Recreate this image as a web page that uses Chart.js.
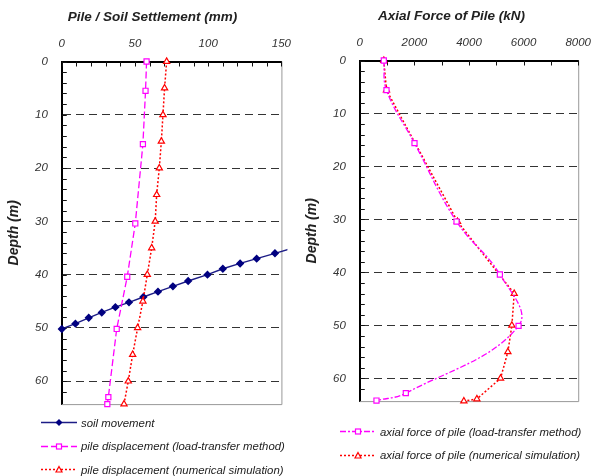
<!DOCTYPE html>
<html>
<head>
<meta charset="utf-8">
<script src="https://cdn.jsdelivr.net/npm/chart.js@4/dist/chart.umd.min.js"></script>
<style>
  html, body { margin: 0; padding: 0; background: #fff; overflow: hidden; }
  #wrap { position: relative; width: 591px; height: 476px; overflow: hidden; font-family: "Liberation Sans", Arial, sans-serif; }
  .box { position: absolute; }
  #leftBox { left: 0; top: 0; width: 303px; height: 425px; }
  #rightBox { left: 298px; top: -1px; width: 305px; height: 423px; }
  .legend { position: absolute; font-style: italic; font-size: 11.4px; color: #222; }
  .legend div { height: 23.5px; display: flex; align-items: center; white-space: nowrap; }
  .legend svg { margin-right: 4px; }
  #leftLegend { left: 41px; top: 411px; }
  #rightLegend { left: 340px; top: 420px; }
</style>
</head>
<body>
<div id="wrap">
  <div class="box" id="leftBox"><canvas id="settleChart"></canvas></div>
  <div class="box" id="rightBox"><canvas id="forceChart"></canvas></div>
  <div class="legend" id="leftLegend"></div>
  <div class="legend" id="rightLegend"></div>
</div>
<script>
// ---- data ----
// soil movement (mm) vs depth (m)
const soilDepth = [50.2, 49.2, 48.1, 47.1, 46.1, 45.2, 44.2, 43.2, 42.2, 41.2, 40.0, 38.9, 37.9, 37.0, 36.0, 35.0];
const soilMove  = [0, 9.3, 18.4, 27.3, 36.6, 45.9, 55.7, 65.7, 75.9, 86.3, 99.5, 110, 121.8, 133.1, 145.6, 158];

// pile displacement, load-transfer method
const pileLtDepth = [0, 5.5, 15.5, 30.4, 40.4, 50.2, 63.0, 64.3];
const pileLtDisp  = [57.9, 57.2, 55.4, 50.2, 44.7, 37.5, 31.8, 31.1];

// pile displacement, numerical simulation
const pileNsDepth = [0, 5, 10, 15, 20, 25, 30, 35, 40, 45, 50, 55, 60, 64.3];
const pileNsDisp  = [71.6, 70.2, 69.1, 68.0, 66.6, 64.8, 63.8, 61.4, 58.4, 55.4, 51.8, 48.4, 45.4, 42.5];

// axial force of pile (kN)
const forceLtDepth = [0, 5.6, 15.6, 30.4, 40.4, 50.1, 62.8, 64.2];
const forceLt      = [880, 978, 2004, 3543, 5131, 5816, 1686, 611];
const forceNsDepth = [0, 5.6, 30.4, 44, 50, 55, 60, 63.9, 64.3];
const forceNs      = [880, 978, 3580, 5656, 5571, 5424, 5156, 4288, 3812];

const depthMax = 64.3;

const FONT = "'Liberation Sans', Arial, sans-serif";
Chart.defaults.font.family = FONT;
Chart.defaults.color = '#333';

const pts = (xs, ys) => xs.map((v, i) => ({ x: v, y: ys[i] }));

// ticks drawn inside the plot + grey right/bottom frame
const inwardTicks = {
  id: 'inwardTicks',
  beforeDatasetsDraw(chart) {
    const { ctx, chartArea: a, scales: { x, y } } = chart;
    ctx.save();
    ctx.strokeStyle = '#999';
    ctx.lineWidth = 1;
    ctx.beginPath();
    ctx.moveTo(a.right + 0.5, a.top);
    ctx.lineTo(a.right + 0.5, a.bottom + 0.5);
    ctx.lineTo(a.left, a.bottom + 0.5);
    ctx.stroke();
    ctx.strokeStyle = '#111';
    ctx.beginPath();
    x.ticks.forEach(t => {
      const px = Math.round(x.getPixelForValue(t.value)) + 0.5;
      ctx.moveTo(px, a.top);
      ctx.lineTo(px, a.top + 5);
    });
    y.ticks.forEach(t => {
      if (t.value % 2) return;
      const py = Math.round(y.getPixelForValue(t.value)) + 0.5;
      ctx.moveTo(a.left, py);
      ctx.lineTo(a.left + 5, py);
    });
    ctx.stroke();
    ctx.restore();
  }
};

function makeOptions(title, xMax, xStep, labelEvery) {
  return {
    responsive: true,
    maintainAspectRatio: false,
    animation: false,
    layout: { padding: { left: 6, top: 6, right: 4, bottom: 1 } },
    plugins: {
      legend: { display: false },
      tooltip: { enabled: false },
      title: {
        display: true, text: title, color: '#222',
        font: { size: 13.5, weight: 'bold', style: 'italic' },
        padding: { top: 2.9, bottom: 0.9 }
      }
    },
    scales: {
      x: {
        type: 'linear',
        position: 'top',
        min: 0, max: xMax,
        grid: { display: false, drawTicks: false },
        border: { display: true, color: '#000', width: 2 },
        ticks: {
          stepSize: xStep, autoSkip: false, maxRotation: 0, padding: 12,
          font: { size: 11.5, style: 'italic', lineHeight: 1 }, color: '#333',
          callback: v => (v % labelEvery === 0 ? v : '')
        }
      },
      y: {
        type: 'linear',
        reverse: true,
        min: 0, max: depthMax,
        grid: {
          drawTicks: false,
          color: c => (c.tick && c.tick.value > 0 && c.tick.value % 10 === 0 ? '#333' : 'rgba(0,0,0,0)')
        },
        border: { display: true, color: '#000', width: 2, dash: [8, 5] },
        ticks: {
          stepSize: 2, autoSkip: false, padding: 14,
          font: { size: 11.5, style: 'italic' }, color: '#333',
          callback: v => (v % 10 === 0 ? v : '')
        },
        title: {
          display: true, text: 'Depth (m)', color: '#222',
          font: { size: 14, weight: 'bold', style: 'italic', lineHeight: 1 },
          padding: { top: 1, bottom: 0 }
        }
      }
    }
  };
}

const soilSet = {
  label: 'soil movement',
  data: pts(soilMove, soilDepth),
  showLine: true, borderColor: '#1c1c86', backgroundColor: '#000080',
  borderWidth: 1.4, pointStyle: 'rectRot', pointRadius: 3.2,
  pointBorderColor: '#000080', pointBackgroundColor: '#000080',
  clip: 6
};
const pileLtSet = {
  label: 'pile displacement (load-transfer method)',
  data: pts(pileLtDisp, pileLtDepth),
  showLine: true, borderColor: '#ff00ff', borderWidth: 1.3, borderDash: [7, 3],
  pointStyle: 'rect', pointRadius: 3.6, pointBorderWidth: 1.2,
  pointBorderColor: '#ff00ff', pointBackgroundColor: '#fff',
  clip: 6
};
const pileNsSet = {
  label: 'pile displacement (numerical simulation)',
  data: pts(pileNsDisp, pileNsDepth),
  showLine: true, borderColor: '#ff0000', borderWidth: 1.5, borderDash: [2, 2],
  pointStyle: 'triangle', pointRadius: 3.6, pointBorderWidth: 1.2,
  pointBorderColor: '#ff0000', pointBackgroundColor: '#fff',
  clip: 6
};

const settleChart = new Chart(document.getElementById('settleChart'), {
  type: 'scatter',
  data: { datasets: [pileLtSet, pileNsSet, soilSet] },
  options: makeOptions('Pile / Soil Settlement (mm)', 150, 10, 50),
  plugins: [inwardTicks]
});

const forceLtSet = {
  label: 'axial force of pile (load-transfer method)',
  data: pts(forceLt, forceLtDepth),
  showLine: true, tension: 0.4, borderColor: '#ff00ff', borderWidth: 1.3, borderDash: [6, 2, 2, 2],
  pointStyle: 'rect', pointRadius: 3.6, pointBorderWidth: 1.2,
  pointBorderColor: '#ff00ff', pointBackgroundColor: '#fff',
  clip: 6
};
const forceNsSet = {
  label: 'axial force of pile (numerical simulation)',
  data: pts(forceNs, forceNsDepth),
  showLine: true, borderColor: '#ff0000', borderWidth: 1.5, borderDash: [2, 2],
  pointStyle: 'triangle', pointRadius: 3.6, pointBorderWidth: 1.2,
  pointBorderColor: '#ff0000', pointBackgroundColor: '#fff',
  clip: 6
};

const forceChart = new Chart(document.getElementById('forceChart'), {
  type: 'scatter',
  data: { datasets: [forceLtSet, forceNsSet] },
  options: makeOptions('Axial Force of Pile (kN)', 8000, 1000, 2000),
  plugins: [inwardTicks]
});

// legend: line sample with marker, built from the datasets
function sample(ds) {
  const c = ds.pointBorderColor;
  const dash = ds.borderDash ? ds.borderDash.join(',') : 'none';
  let m = '';
  if (ds.pointStyle === 'rectRot') m = `<polygon points="18,3 21.5,6.5 18,10 14.5,6.5" fill="${c}"/>`;
  if (ds.pointStyle === 'rect') m = `<rect x="15.5" y="4" width="5" height="5" fill="#fff" stroke="${c}" stroke-width="1.2"/>`;
  if (ds.pointStyle === 'triangle') m = `<polygon points="18,3.5 21,9 15,9" fill="#fff" stroke="${c}" stroke-width="1.2"/>`;
  return `<svg width="36" height="13"><line x1="0" y1="6.5" x2="36" y2="6.5" stroke="${ds.borderColor}" stroke-width="1.3" stroke-dasharray="${dash}"/>${m}</svg>`;
}
function buildLegend(el, sets) {
  el.innerHTML = sets.map(ds => `<div>${sample(ds)}<span>${ds.label}</span></div>`).join('');
}
buildLegend(document.getElementById('leftLegend'), [soilSet, pileLtSet, pileNsSet]);
buildLegend(document.getElementById('rightLegend'), [forceLtSet, forceNsSet]);
</script>
</body>
</html>
